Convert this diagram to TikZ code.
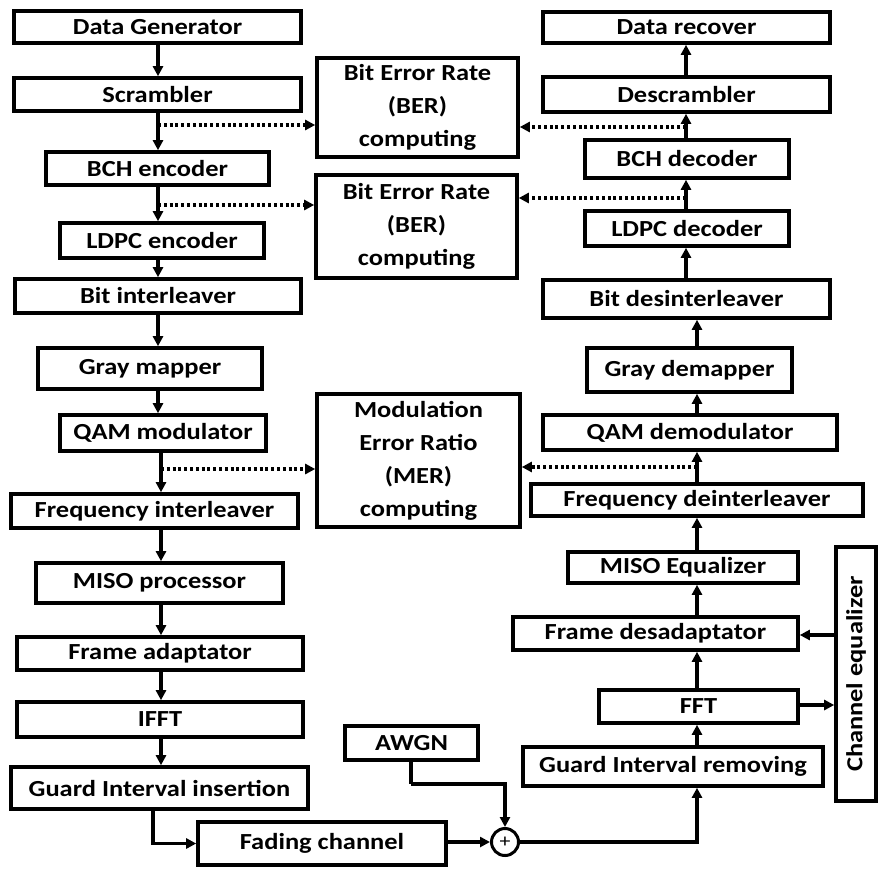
\documentclass[tikz,border=0pt]{standalone}
\usepackage{fontspec}
\setmainfont{Carlito}[FakeStretch=1.15]
\usetikzlibrary{arrows.meta}
\begin{document}
\begin{tikzpicture}[x=1pt,y=-1pt,
  blk/.style={draw, line width=3.6pt, inner sep=0pt, align=center,
    font=\fontsize{23}{33}\selectfont\bfseries},
  arr/.style={line width=3.2pt, -{Triangle[length=10pt,width=10pt]}},
  dotarr/.style={arr, dash pattern=on 3pt off 2.8pt},
  plain/.style={line width=3.2pt}]
\useasboundingbox (0,0) rectangle (888,871);
\newcommand\blk[6]{\node[blk,minimum width={#4-#2},minimum height={#5-#3}] (#1) at ({(#2+#4)/2},{(#3+#5)/2}) {#6};}
% left column
\blk{dg}{14}{11}{301}{43}{Data Generator}
\blk{scr}{14}{78}{301}{111}{Scrambler}
\blk{bche}{46}{152}{269}{185}{BCH encoder}
\blk{ldpce}{60}{223}{264}{258}{LDPC encoder}
\blk{bil}{15}{279}{301}{313}{Bit interleaver}
\blk{gm}{38}{348}{262}{389}{Gray mapper}
\blk{qam}{60}{415}{266}{451}{QAM modulator}
\blk{fil}{11}{494}{298}{528}{Frequency interleaver}
\blk{miso}{36}{563}{283}{603}{MISO processor}
\blk{fa}{17}{637}{303}{670}{Frame adaptator}
\blk{ifft}{17}{702}{303}{737}{IFFT}
\blk{gii}{11}{767}{308}{809}{Guard Interval insertion}
\blk{fc}{198}{822}{446}{865}{Fading channel}
% middle
\blk{ber1}{317}{58}{518}{157}{Bit Error Rate\\(BER)\\computing}
\blk{ber2}{316}{175}{517}{278}{Bit Error Rate\\(BER)\\computing}
\blk{mer}{317}{394}{520}{527}{Modulation\\Error Ratio\\(MER)\\computing}
\blk{awgn}{345}{726}{478}{760}{AWGN}
\node[draw, circle, line width=3pt, minimum size=27pt, inner sep=0pt,
  font=\fontsize{19}{19}\selectfont] (add) at (505,842) {+};
% right column
\blk{dr}{543}{12}{830}{43}{Data recover}
\blk{des}{543}{77}{830}{112}{Descrambler}
\blk{bchd}{585}{140}{789}{178}{BCH decoder}
\blk{ldpcd}{585}{211}{789}{246}{LDPC decoder}
\blk{bdi}{543}{280}{830}{318}{Bit desinterleaver}
\blk{gdm}{587}{348}{792}{392}{Gray demapper}
\blk{qamd}{543}{415}{837}{450}{QAM demodulator}
\blk{fdi}{531}{484}{863}{516}{Frequency deinterleaver}
\blk{misoe}{568}{552}{798}{583}{MISO Equalizer}
\blk{fda}{513}{617}{798}{650}{Frame desadaptator}
\blk{fft}{599}{690}{798}{723}{FFT}
\blk{gir}{523}{747}{823}{786}{Guard Interval removing}
\blk{ce}{836}{547}{876}{801}{\rotatebox{90}{Channel equalizer}}
% column coordinates
\coordinate (la) at (158,0);
\coordinate (lb) at (161,0);
\coordinate (ra) at (686,0);
\coordinate (rb) at (697,0);
% left chain
\draw[arr] (dg.south -| la) -- (scr.north -| la);
\draw[arr] (scr.south -| la) -- (bche.north -| la);
\draw[arr] (bche.south -| la) -- (ldpce.north -| la);
\draw[arr] (ldpce.south -| la) -- (bil.north -| la);
\draw[arr] (bil.south -| la) -- (gm.north -| la);
\draw[arr] (gm.south -| la) -- (qam.north -| la);
\draw[arr] (qam.south -| lb) -- (fil.north -| lb);
\draw[arr] (fil.south -| lb) -- (miso.north -| lb);
\draw[arr] (miso.south -| lb) -- (fa.north -| lb);
\draw[arr] (fa.south -| lb) -- (ifft.north -| lb);
\draw[arr] (ifft.south -| lb) -- (gii.north -| lb);
\coordinate (g1) at (153,0);
\draw[arr] (gii.south -| g1) |- (fc.west);
% right chain
\draw[arr] (des.north -| ra) -- (dr.south -| ra);
\draw[arr] (bchd.north -| ra) -- (des.south -| ra);
\draw[arr] (ldpcd.north -| ra) -- (bchd.south -| ra);
\draw[arr] (bdi.north -| ra) -- (ldpcd.south -| ra);
\draw[arr] (gdm.north -| rb) -- (bdi.south -| rb);
\draw[arr] (qamd.north -| rb) -- (gdm.south -| rb);
\draw[arr] (fdi.north -| rb) -- (qamd.south -| rb);
\draw[arr] (misoe.north -| rb) -- (fdi.south -| rb);
\draw[arr] (fda.north -| rb) -- (misoe.south -| rb);
\draw[arr] (fft.north -| rb) -- (fda.south -| rb);
\draw[arr] (gir.north -| rb) -- (fft.south -| rb);
% channel equalizer
\coordinate (ce1) at (0,635);
\coordinate (ce2) at (0,705);
\draw[arr] (ce.west |- ce1) -- (fda.east |- ce1);
\draw[arr] (fft.east |- ce2) -- (ce.west |- ce2);
% channel
\coordinate (aw) at (411,784);
\draw[plain] (awgn.south -| aw) -- (aw);
\draw[arr] (aw) -| (add.north);
\draw[arr] (fc.east |- add.west) -- (add.west);
\draw[arr] (add.east) -| (gir.south -| rb);
% dotted
\coordinate (d1) at (158,125);
\coordinate (d2) at (158,205);
\coordinate (d3) at (161,469);
\draw[dotarr] (d1) -- (d1 -| ber1.west);
\draw[dotarr] (d2) -- (d2 -| ber2.west);
\draw[dotarr] (d3) -- (d3 -| mer.west);
\coordinate (e1) at (686,127);
\coordinate (e2) at (686,198);
\coordinate (e3) at (697,467);
\draw[dotarr] (e1) -- (e1 -| ber1.east);
\draw[dotarr] (e2) -- (e2 -| ber2.east);
\draw[dotarr] (e3) -- (e3 -| mer.east);
\end{tikzpicture}
\end{document}
